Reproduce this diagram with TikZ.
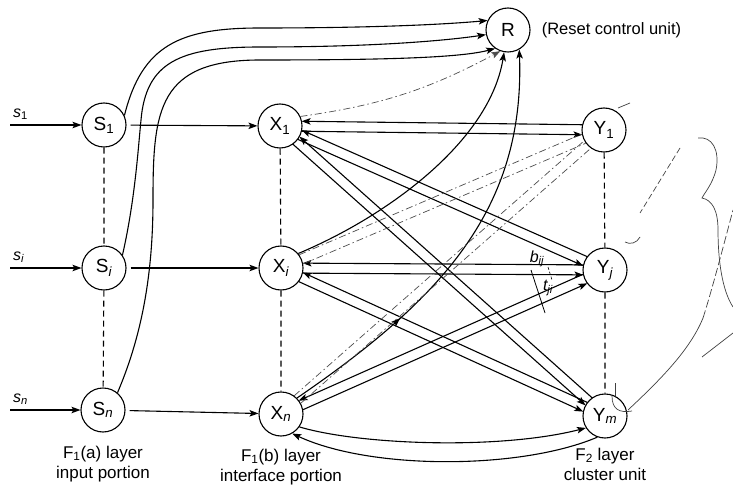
\documentclass[tikz,border=0pt]{standalone}
\usepackage{fontspec}
\setmainfont{Liberation Sans}
\usetikzlibrary{arrows.meta,positioning,calc,decorations.markings}

\newcommand{\sub}[1]{\textsubscript{\upshape #1}}
\newcommand{\isub}[1]{\textsubscript{\itshape #1}}

\begin{document}
\begin{tikzpicture}[
    x=1pt, y=-1pt,
    >={Stealth[length=9pt,width=6.5pt,inset=2pt]},
    unit/.style={circle, draw, line width=1.1pt, minimum size=44pt, inner sep=0pt, font=\fontsize{19}{19}\selectfont},
    arr/.style={->, line width=1.1pt},
    lnk/.style={line width=1.1pt, shorten <=21.5pt, shorten >=21.5pt},
    faint/.style={line width=0.7pt, black!70, dash pattern=on 7pt off 3pt on 1.5pt off 3pt},
    vdash/.style={line width=1.1pt, dash pattern=on 6pt off 4pt},
    layerlab/.style={align=center, inner sep=0pt, font=\fontsize{17}{20}\selectfont},
    inlab/.style={inner sep=0pt, font=\fontsize{16}{16}\selectfont\itshape},
    scratch/.style={line width=0.7pt, black!75}
  ]
    \useasboundingbox (0,0) rectangle (733,489);

    % units
    \node[unit] (s1) at (104,125) {S\sub{1}};
    \node[unit] (si) at (104,268) {S\isub{i}};
    \node[unit] (sn) at (103,410) {S\isub{n}};
    \node[unit] (x1) at (280,126) {X\sub{1}};
    \node[unit] (xi) at (281,268) {X\isub{i}};
    \node[unit] (xn) at (281,414) {X\isub{n}};
    \node[unit] (y1) at (604,130) {Y\sub{1}};
    \node[unit] (yj) at (605,270) {Y\isub{j}};
    \node[unit] (ym) at (605,416) {Y\isub{m}};
    \node[unit] (r) at (508,30) {R};
    \node[right=11pt of r, inner sep=0pt, font=\fontsize{16.5}{16.5}\selectfont] (rlab) {(Reset control unit)};

    % layer names
    \node[layerlab, below=13pt of sn] (lab1) {F\sub{1}(a) layer\\input portion};
    \node[layerlab, below=12pt of xn] (lab2) {F\sub{1}(b) layer\\interface portion};
    \node[layerlab, below=9pt of ym] (lab3) {F\sub{2} layer\\cluster unit};

    % inputs
    \coordinate (in1) at (10,125);
    \coordinate (ini) at (10,268);
    \coordinate (inn) at (10,410);
    \node[inlab, above right=5pt and 3pt of in1] {s\sub{1}};
    \node[inlab, above right=5pt and 3pt of ini] {s\isub{i}};
    \node[inlab, above right=5pt and 3pt of inn] {s\isub{n}};
    \draw[arr] (in1) -- (s1);
    \draw[arr] (ini) -- (si);
    \draw[arr] (inn) -- (sn);
    \draw[arr, shorten <=4pt] (s1) -- (x1);
    \draw[arr, shorten <=4pt] (si) -- (xi);
    \draw[arr, shorten <=4pt] (sn) -- (xn);

    % columns
    \draw[vdash] (s1) -- (si) -- (sn);
    \draw[vdash] (x1) -- (xi) -- (xn);
    \draw[vdash] (y1) -- (yj) -- (ym);

    % S units to reset
    \draw[arr] (s1.25) .. controls (142,45) and (180,28) .. (260,28)
      .. controls (380,28) and (450,24) .. (r.155);
    \draw[arr] (si.35) .. controls (135,200) and (138,150) .. (141,120)
      .. controls (146,62) and (180,47) .. (260,47) .. controls (380,47) and (450,40) .. (r.192);
    \draw[arr] (sn.50) .. controls (140,340) and (153,280) .. (153,200)
      .. controls (153,110) and (158,60) .. (260,60) .. controls (380,60) and (460,58) .. (r.235);

    % X units to reset
    \draw[arr] (xi.40) .. controls (390,215) and (490,140) .. (r.260);
    \draw[arr, postaction={decorate, decoration={markings, mark=at position 0.3 with {\arrow{>}}}}]
      (xn.45) .. controls (440,300) and (525,210) .. (r.-60);
    \draw[faint, ->] (x1.25) to[bend right=10] (r.250);

    % bottom-up and top-down pairs
    \foreach \a/\b in {x1/y1, x1/yj, x1/ym, xi/yj, xi/ym, xn/yj}{
      \draw[lnk, <-] ($(\a)!5pt!90:(\b)$) -- ($(\b)!5pt!-90:(\a)$);
      \draw[lnk, ->] ($(\a)!5pt!-90:(\b)$) -- ($(\b)!5pt!90:(\a)$);
    }
    \foreach \a in {xi, xn}{
      \draw[faint, shorten <=22pt, shorten >=22pt] ($(\a)!5pt!90:(y1)$) -- ($(y1)!5pt!-90:(\a)$);
      \draw[faint, shorten <=22pt, shorten >=22pt] ($(\a)!5pt!-90:(y1)$) -- ($(y1)!5pt!90:(\a)$);
    }
    \draw[arr] (xn.-35) .. controls (360,445) and (500,450) .. (ym.212);
    \draw[arr] (ym.250) .. controls (520,470) and (370,470) .. (xn.-60);

    % weights
    \node[inlab] (bij) at (537,259) {b\isub{ij}};
    \node[inlab] (tji) at (548,288) {t\isub{ji}};
    \draw[line width=0.8pt] (531,270) -- (545,313);
    \draw[line width=0.6pt, dash pattern=on 3pt off 2pt] (548,267) -- (552,280);

    % pencil marks on the right
    \draw[scratch] (612,396) .. controls (612,410) and (620,413) .. (632,411);
    \draw[scratch] (615,383) -- (615,396);
    \draw[scratch] (628,410) .. controls (660,380) and (690,350) .. (703,318);
    \draw[scratch, dash pattern=on 8pt off 3pt] (703,318) .. controls (712,290) and (725,240) .. (733,210);
    \draw[scratch] (698,138) .. controls (712,136) and (720,150) .. (716,170)
      .. controls (712,185) and (705,192) .. (702,198) .. controls (712,200) and (718,210) .. (718,230)
      .. controls (718,260) and (722,290) .. (733,307);
    \draw[scratch] (702,357) -- (733,333);
    \draw[scratch, dash pattern=on 6pt off 3pt] (680,148) -- (640,213);
    \draw[scratch] (625,242) .. controls (630,245) and (637,243) .. (640,237);
    \draw[scratch] (618,108) -- (630,103);
  \end{tikzpicture}
\end{document}
